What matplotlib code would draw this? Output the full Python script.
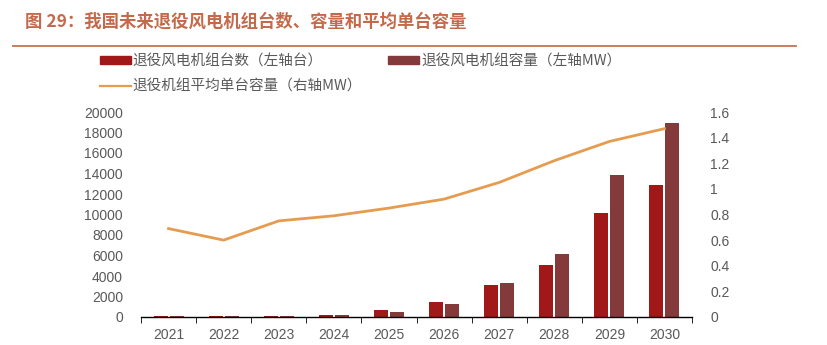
import numpy as np
import matplotlib.pyplot as plt
from matplotlib.patches import Patch
from matplotlib.lines import Line2D

plt.rcParams['font.family'] = ['Noto Sans CJK SC', 'DejaVu Sans']

# Data
years = ['2021', '2022', '2023', '2024', '2025', '2026', '2027', '2028', '2029', '2030']
units = [130, 120, 120, 220, 640, 1430, 3150, 5100, 10150, 12880]      # 台
capacity = [120, 120, 110, 220, 520, 1300, 3350, 6180, 13850, 18930]  # MW
avg_cap = [0.69, 0.60, 0.75, 0.79, 0.85, 0.92, 1.05, 1.22, 1.37, 1.47]  # MW
right_ticks = [0, 0.2, 0.4, 0.6, 0.8, 1.0, 1.2, 1.4, 1.6]
right_labels = ['0', '0.2', '0.4', '0.6', '0.8', '1', '1.2', '1.4', '1.6']

TITLE = "图 29：我国未来退役风电机组台数、容量和平均单台容量"
LBL_UNITS = "退役风电机组台数（左轴台）"
LBL_CAP = "退役风电机组容量（左轴MW）"
LBL_AVG = "退役机组平均单台容量（右轴MW）"

C_UNITS = '#A11818'
C_CAP = '#843A3A'
C_AVG = '#E59C50'
C_TITLE = '#C46A4B'
C_TEXT = '#595959'

fig = plt.figure(figsize=(8.28, 3.45), dpi=100)

# Title and rule under it
fig.text(25 / 828, 1 - 22 / 345, TITLE, fontsize=12.5, fontweight='bold',
         color=C_TITLE, va='center', ha='left')
fig.add_artist(Line2D([13 / 828, 796 / 828], [1 - 46 / 345, 1 - 46 / 345],
                      color='#C8704F', lw=1.3))

ax = fig.add_axes([141 / 828, 1 - 317 / 345, 551 / 828, 205 / 345])
ax2 = ax.twinx()

x = np.arange(len(years))
w = 0.255
off = 0.145
ax.bar(x - off, units, width=w, color=C_UNITS, zorder=2)
ax.bar(x + off, capacity, width=w, color=C_CAP, zorder=2)
ax2.plot(x, avg_cap, color=C_AVG, lw=2, zorder=3)

ax.set_xlim(-0.5, len(years) - 0.5)
ax.set_ylim(0, 20000)
ax.set_yticks(np.arange(0, 20001, 2000))
ax2.set_ylim(0, 1.6)
ax2.set_yticks(right_ticks)
ax2.set_yticklabels(right_labels)

ax.set_xticks(x)
ax.set_xticklabels(years)
ax.set_xticks(np.arange(-0.5, len(years), 1), minor=True)
ax.tick_params(axis='x', which='major', length=0, pad=8)
ax.tick_params(axis='x', which='minor', length=4, direction='out', color='black')

for a in (ax, ax2):
    for s in ('top', 'left', 'right'):
        a.spines[s].set_visible(False)
    a.tick_params(axis='y', length=0, pad=13)
    for lab in a.get_xticklabels() + a.get_yticklabels():
        lab.set_fontfamily(['Liberation Sans', 'DejaVu Sans'])
        lab.set_fontsize(10)
        lab.set_color(C_TEXT)
ax2.spines['bottom'].set_visible(False)
ax.spines['bottom'].set_color('black')
ax.spines['bottom'].set_linewidth(1)

handles = [Patch(color=C_UNITS), Line2D([], [], color=C_AVG, lw=1.6), Patch(color=C_CAP)]
labels = [LBL_UNITS, LBL_AVG, LBL_CAP]
leg = fig.legend(handles, labels, ncol=2, loc='upper left',
                 bbox_to_anchor=(100 / 828, 1 - 54 / 345), frameon=False,
                 fontsize=10.5, handlelength=2.1, handleheight=0.55,
                 handletextpad=0.15, labelspacing=0.8, columnspacing=1.8,
                 borderpad=0, borderaxespad=0)
for t in leg.get_texts():
    t.set_color(C_TEXT)

fig.savefig('out.png', dpi=100)
